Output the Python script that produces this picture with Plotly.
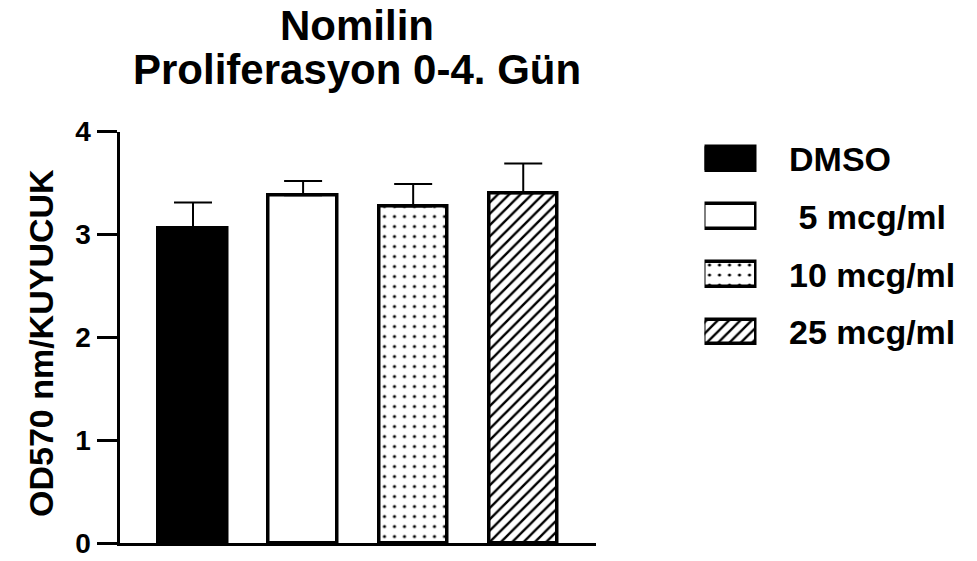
import plotly.graph_objects as go

# ---- data ----
groups = ["DMSO", "\u00a05 mcg/ml", "10 mcg/ml", "25 mcg/ml"]
means = [3.06, 3.38, 3.27, 3.40]
sd_upper = [0.25, 0.14, 0.22, 0.29]
y_ticks = [0, 1, 2, 3, 4]
title_lines = ["Nomilin", "Proliferasyon 0-4. Gün"]
y_title = "OD570 nm/KUYUCUK"

W, H = 977, 561
FONT = "Liberation Sans"
OFF = 8  # page body margin offset of the figure in the window

def px_x(p):
    return (p - OFF) / W

def px_y(p):
    return 1 - (p - OFF) / H

styles = [
    dict(color="black", pattern=None),
    dict(color="white", pattern=None),
    dict(color="white", pattern=dict(shape=".", fgcolor="black", bgcolor="white", size=10, solidity=0.08)),
    dict(color="white", pattern=dict(shape="/", fgcolor="black", bgcolor="white", size=8, solidity=0.3)),
]

fig = go.Figure()

BORDER = 3.5
for i, g in enumerate(groups):
    st = styles[i]
    marker = dict(color=st["color"], line=dict(color="black", width=BORDER))
    if st["pattern"]:
        marker["pattern"] = st["pattern"]
    fig.add_trace(go.Bar(
        x=[i], y=[means[i]], width=0.62, name=g, marker=marker,
        error_y=dict(type="data", symmetric=False, array=[sd_upper[i]], arrayminus=[0],
                     color="black", thickness=2, width=19),
        showlegend=False, xaxis="x", yaxis="y", hoverinfo="skip",
    ))
    # legend swatch drawn as a bar in a small side subplot
    fig.add_trace(go.Bar(
        y=[i], x=[1], base=[0], orientation="h", width=0.424, name=g, marker=marker,
        showlegend=False, xaxis="x2", yaxis="y2", hoverinfo="skip",
    ))

fig.update_layout(
    template="none",
    width=W, height=H,
    margin=dict(l=0, r=0, t=0, b=0, pad=0),
    paper_bgcolor="white", plot_bgcolor="white",
    font=dict(family=FONT, color="black"),
    showlegend=False,
    bargap=0,
    xaxis=dict(
        domain=[px_x(119.5), px_x(596)],
        range=[-0.668, 3.661], automargin=False,
        showline=True, linecolor="black", linewidth=3,
        showticklabels=False, ticks="", showgrid=False, zeroline=False,
        fixedrange=True,
    ),
    yaxis=dict(
        domain=[px_y(543), px_y(131.5)],
        range=[0, 4], automargin=False,
        tickvals=y_ticks, ticktext=[str(t) for t in y_ticks],
        ticks="outside", ticklen=20, tickwidth=3, tickcolor="black",
        showline=True, linecolor="black", linewidth=3,
        tickfont=dict(family=FONT, size=28, weight="bold", color="black"),
        showgrid=False, zeroline=False, fixedrange=True,
    ),
    xaxis2=dict(
        domain=[px_x(704.5), px_x(756.5)], range=[0, 1], anchor="y2",
        visible=False, fixedrange=True, automargin=False,
    ),
    yaxis2=dict(
        domain=[px_y(361), px_y(130)], range=[3.5, -0.5], anchor="x2",
        visible=False, fixedrange=True, automargin=False,
    ),
)

ann = []
for txt, yc in zip(title_lines, [25.5, 69]):
    ann.append(dict(text=txt, x=px_x(357), y=px_y(yc), xref="paper", yref="paper",
                    xanchor="center", yanchor="middle", showarrow=False,
                    font=dict(family=FONT, size=42, weight="bold", color="black")))
ann.append(dict(text=y_title, x=px_x(41), y=px_y(343), xref="paper", yref="paper",
                xanchor="center", yanchor="middle", textangle=-90, showarrow=False,
                font=dict(family=FONT, size=34, weight="bold", color="black")))
for g, yc in zip(groups, [158.7, 217.3, 275, 332]):
    ann.append(dict(text=g, x=px_x(787), y=px_y(yc), xref="paper", yref="paper",
                    xanchor="left", yanchor="middle", showarrow=False,
                    font=dict(family=FONT, size=34, weight="bold", color="black")))
fig.update_layout(annotations=ann)

fig.write_html("out.html")
